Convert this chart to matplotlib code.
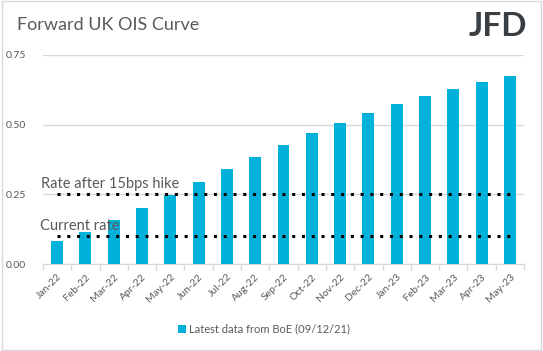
import numpy as np
import matplotlib.pyplot as plt
from matplotlib.patches import Rectangle

months = ["Jan-22", "Feb-22", "Mar-22", "Apr-22", "May-22", "Jun-22", "Jul-22",
          "Aug-22", "Sep-22", "Oct-22", "Nov-22", "Dec-22", "Jan-23", "Feb-23",
          "Mar-23", "Apr-23", "May-23"]
ois = [0.083, 0.115, 0.158, 0.202, 0.247, 0.294, 0.341, 0.384, 0.427, 0.470,
       0.506, 0.542, 0.574, 0.603, 0.628, 0.653, 0.674]
current_rate = 0.10
hike_rate = 0.25
yticks = [0.00, 0.25, 0.50, 0.75]

plt.rcParams['font.family'] = ['Lato', 'DejaVu Sans']
grey = "#595959"

fig = plt.figure(figsize=(5.43, 3.51), dpi=100)
ax = fig.add_axes([43 / 543, 1 - 264 / 351, (524 - 43) / 543, (264 - 55) / 351])

x = np.arange(len(months))
ax.bar(x, ois, width=0.42, color="#00B2DB", zorder=3,
       label="Latest data from BoE (09/12/21)")
ax.plot([0, 16], [hike_rate, hike_rate], ls=(0, (1, 2.2)), color="black", lw=2.2,
        zorder=4)
ax.plot([0, 16], [current_rate, current_rate], ls=(0, (1, 2.2)), color="black",
        lw=2.2, zorder=4)

ax.set_xlim(-0.5, len(months) - 0.5)
ax.set_ylim(0, 0.75)
ax.set_yticks(yticks)
ax.set_yticklabels([f"{v:.2f}" for v in yticks])
ax.yaxis.grid(True, color="#d9d9d9", lw=1, zorder=0)
ax.tick_params(axis="y", length=0, labelsize=7.5, labelcolor=grey, pad=12)

ax.set_xticks(x)
ax.set_xticklabels(months, rotation=45, ha="right", rotation_mode="anchor")
ax.tick_params(axis="x", length=0, labelsize=7.5, labelcolor=grey, pad=6)
ax.set_xticks(np.arange(-0.5, len(months)), minor=True)
ax.tick_params(axis="x", which="minor", length=4, color="#d9d9d9", width=1)

for s in ["top", "right", "left"]:
    ax.spines[s].set_visible(False)
ax.spines["bottom"].set_color("#d9d9d9")

ax.text(-0.57, hike_rate + 0.012, "Rate after 15bps hike", fontsize=10.5,
        color=grey, va="bottom", ha="left", zorder=5)
ax.text(-0.6, current_rate + 0.012, "Current rate", fontsize=10.5,
        color=grey, va="bottom", ha="left", zorder=5)

fig.text(17 / 543, 1 - 25 / 351, "Forward UK OIS Curve", fontsize=13,
         color=grey, va="center", ha="left")
fig.text(527 / 543, 1 - 26 / 351, "JFD", fontsize=24, fontweight="bold",
         color="#3a3f44", va="center", ha="right")

fig.legend(loc="center", bbox_to_anchor=(0.487, 1 - 329 / 351), frameon=False,
           fontsize=8, labelcolor=grey, handlelength=0.7, handleheight=0.7,
           handletextpad=0.3)

fig.patches.append(Rectangle((0.003, 0.003), 0.994, 0.994, transform=fig.transFigure,
                             fill=False, edgecolor="#d9d9d9", lw=1))

fig.savefig("out.png", dpi=100)
